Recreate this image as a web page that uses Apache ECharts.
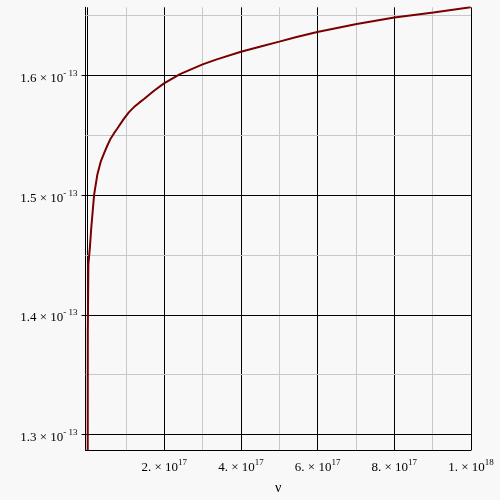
<!DOCTYPE html>
<html>
<head>
<meta charset="utf-8">
<script src="https://cdn.jsdelivr.net/npm/echarts@6/dist/echarts.min.js"></script>
<style>
    html, body { margin: 0; padding: 0; background: #f8f8f8; }
    #chartDiv { width: 500px; height: 500px; }
</style>
</head>
<body>
<div id="chartDiv"></div>
<script>
    // nu in units of 1e17, sigma in units of 1e-13
    var nuValues = [0.003, 0.005, 0.01, 0.02, 0.06, 0.09, 0.17, 0.253, 0.342, 0.428, 0.515, 0.603, 0.69, 0.775, 0.949,
        1.08, 1.21, 1.34, 1.471, 1.732, 1.993, 2.41, 3.0, 3.37, 4.0, 4.49, 5.0, 5.45, 5.99, 7.02, 8.0, 9.02, 9.99]
    var sigmaValues = [1.287, 1.3845, 1.4044, 1.4424, 1.4564, 1.4705, 1.5005, 1.517, 1.528, 1.535, 1.5415, 1.5474, 1.5518, 1.5557, 1.564,
        1.5694, 1.5736, 1.5771, 1.5804, 1.5873, 1.5934, 1.6011, 1.6093, 1.6135, 1.6198, 1.624, 1.6283, 1.6322, 1.6364, 1.643, 1.6484, 1.6526, 1.657]

    // tick positions / labels
    var xMajorTicks = [0, 2, 4, 6, 8, 10]
    var xMinorTicks = [1, 3, 5, 7, 9]
    var xLabelTicks = [2, 4, 6, 8, 10]
    var xLabelMantissa = ['2.', '4.', '6.', '8.', '1.']
    var xLabelExp = ['17', '17', '17', '17', '18']
    var yMajorTicks = [1.3, 1.4, 1.5, 1.6]
    var yMinorTicks = [1.35, 1.45, 1.55, 1.65]
    var yLabelExp = '- 13'

    var serif = 'Liberation Serif'
    var richStyle = {
        m: { fontFamily: serif, fontSize: 13, color: '#000', lineHeight: 16, verticalAlign: 'bottom' },
        e: { fontFamily: serif, fontSize: 9, color: '#000', lineHeight: 16, verticalAlign: 'top' }
    }

    var gridLines = []
    xMajorTicks.forEach(function (v) { gridLines.push({ xAxis: v, lineStyle: { color: '#000' } }) })
    xMinorTicks.forEach(function (v) { gridLines.push({ xAxis: v, lineStyle: { color: '#c8c8c8' } }) })
    yMajorTicks.forEach(function (v) { gridLines.push({ yAxis: v, lineStyle: { color: '#000' } }) })
    yMinorTicks.forEach(function (v) { gridLines.push({ yAxis: v, lineStyle: { color: '#c8c8c8' } }) })

    var curve = nuValues.map(function (x, i) { return [x, sigmaValues[i]] })

    var chartObj = echarts.init(document.getElementById('chartDiv'))
    chartObj.setOption({
        backgroundColor: '#f8f8f8',
        animation: false,
        grid: { left: 85.5, right: 29, top: 7.3, bottom: 45 },
        xAxis: {
            type: 'value',
            min: -0.055,
            max: 10,
            splitLine: { show: false },
            axisLine: { onZero: false, lineStyle: { color: '#000', width: 1 } },
            axisTick: { show: false },
            axisLabel: {
                customValues: xLabelTicks,
                margin: 8,
                formatter: function (v) {
                    var i = xLabelTicks.indexOf(Math.round(v))
                    if (i < 0) return ''
                    return '{m|' + xLabelMantissa[i] + ' \u00d7 10}{e|' + xLabelExp[i] + '}'
                },
                rich: richStyle
            },
            name: '\u03bd',
            nameLocation: 'middle',
            nameGap: 31,
            nameTextStyle: { fontFamily: serif, fontSize: 14, color: '#000' }
        },
        yAxis: {
            type: 'value',
            min: 1.287,
            max: 1.657,
            splitLine: { show: false },
            axisLine: { onZero: false, lineStyle: { color: '#000', width: 1 } },
            axisTick: { show: true, customValues: yMajorTicks, length: 4, lineStyle: { color: '#000' } },
            axisLabel: {
                customValues: yMajorTicks,
                margin: 8,
                padding: [3, 0, 0, 0],
                formatter: function (v) {
                    return '{m|' + v.toFixed(1) + ' \u00d7 10}{e|' + yLabelExp + '}'
                },
                rich: richStyle
            }
        },
        series: [
            {
                name: 'grid',
                type: 'line',
                data: [],
                z: 1,
                silent: true,
                markLine: {
                    silent: true,
                    symbol: 'none',
                    label: { show: false },
                    lineStyle: { type: 'solid', width: 1 },
                    animation: false,
                    data: gridLines
                }
            },
            {
                name: 'sigma',
                type: 'line',
                z: 5,
                data: curve,
                showSymbol: false,
                smooth: false,
                lineStyle: { color: '#780000', width: 2 }
            }
        ]
    })
</script>
</body>
</html>
